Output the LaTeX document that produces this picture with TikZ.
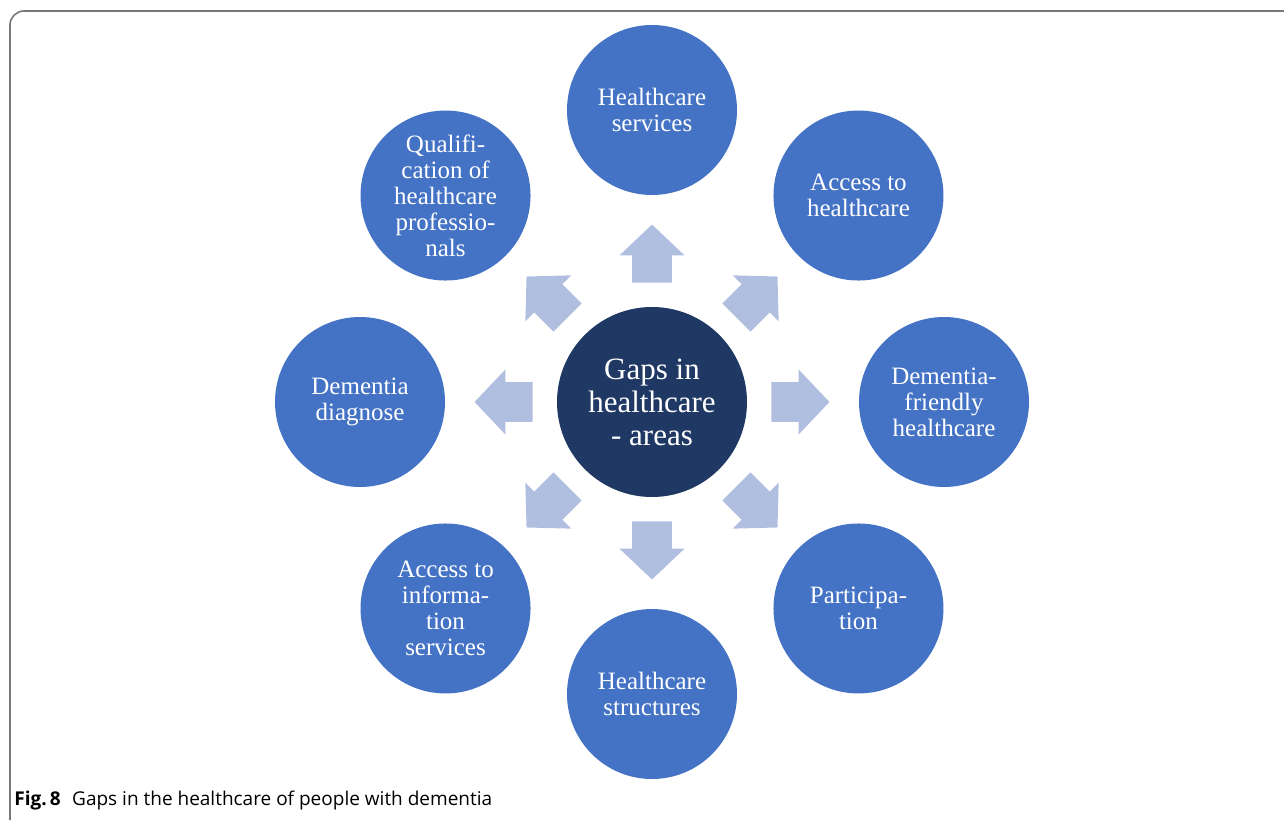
\documentclass[tikz,border=0pt]{standalone}
\usepackage{fontspec}
\setmainfont{Liberation Serif}
\newfontfamily\capfont{Open Sans}
\usetikzlibrary{positioning}
\usetikzlibrary{calc}
\usetikzlibrary{shapes.arrows}
\definecolor{areablue}{RGB}{68,114,196}
\definecolor{hubnavy}{RGB}{32,56,100}
\definecolor{arrowblue}{RGB}{176,190,224}
\definecolor{framegray}{RGB}{120,120,120}

\begin{document}
\begin{tikzpicture}[x=0.5pt,y=0.5pt,
	area/.style={circle,fill=areablue,text=white,minimum size=85pt,inner sep=0pt,align=center,
		font=\fontsize{12.5}{13}\selectfont},
	hub/.style={circle,fill=hubnavy,text=white,minimum size=95pt,inner sep=0pt,align=center,
		font=\fontsize{15.5}{16.5}\selectfont},
	blockarrow/.style={single arrow,fill=arrowblue,draw=none,inner xsep=0pt,inner ysep=9.75pt,
		minimum height=29pt,minimum width=32pt,single arrow head extend=6.25pt,
		single arrow tip angle=93}]
	\useasboundingbox (0,0) rectangle (1284,820);
	% frame
	\draw[framegray,line width=0.8pt,rounded corners=7pt] (10,0) -- (10,809) -- (1290,809);
	% centre
	\node[hub] (gaps) at (652,418) {Gaps in\\healthcare\\- areas};
	% areas
	\node[area] (services) at ($(gaps)+(90:292)$) {Healthcare\\services};
	\node[area] (access) at ($(gaps)+(45:292)$) {Access to\\healthcare};
	\node[area] (friendly) at ($(gaps)+(0:292)$) {Dementia-\\friendly\\healthcare};
	\node[area] (particip) at ($(gaps)+(-45:292)$) {Participa-\\tion};
	\node[area] (structures) at ($(gaps)+(-90:292)$) {Healthcare\\structures};
	\node[area] (info) at ($(gaps)+(-135:292)$) {Access to\\informa-\\tion\\services};
	\node[area] (diagnose) at ($(gaps)+(180:292)$) {Dementia\\diagnose};
	\node[area] (qualif) at ($(gaps)+(135:292)$) {Qualifi-\\cation of\\healthcare\\professio-\\nals};
	% arrows
	\node[blockarrow,rotate=90] (toservices) at ($(gaps)+(90:139)$) {};
	\node[blockarrow,rotate=45] (toaccess) at ($(gaps)+(45:139)$) {};
	\node[blockarrow,rotate=0] (tofriendly) at ($(gaps)+(0:139)$) {};
	\node[blockarrow,rotate=-45] (toparticip) at ($(gaps)+(-45:139)$) {};
	\node[blockarrow,rotate=-90] (tostructures) at ($(gaps)+(-90:139)$) {};
	\node[blockarrow,rotate=-135] (toinfo) at ($(gaps)+(-135:139)$) {};
	\node[blockarrow,rotate=180] (todiagnose) at ($(gaps)+(180:139)$) {};
	\node[blockarrow,rotate=135] (toqualif) at ($(gaps)+(135:139)$) {};
	% caption
	\node[anchor=base west,inner sep=0pt,font=\capfont\fontsize{9.5}{11}\selectfont] (caption) at (14,15)
		{\textbf{Fig.\,8}\hspace{0.6em}Gaps in the healthcare of people with dementia};
\end{tikzpicture}
\end{document}
